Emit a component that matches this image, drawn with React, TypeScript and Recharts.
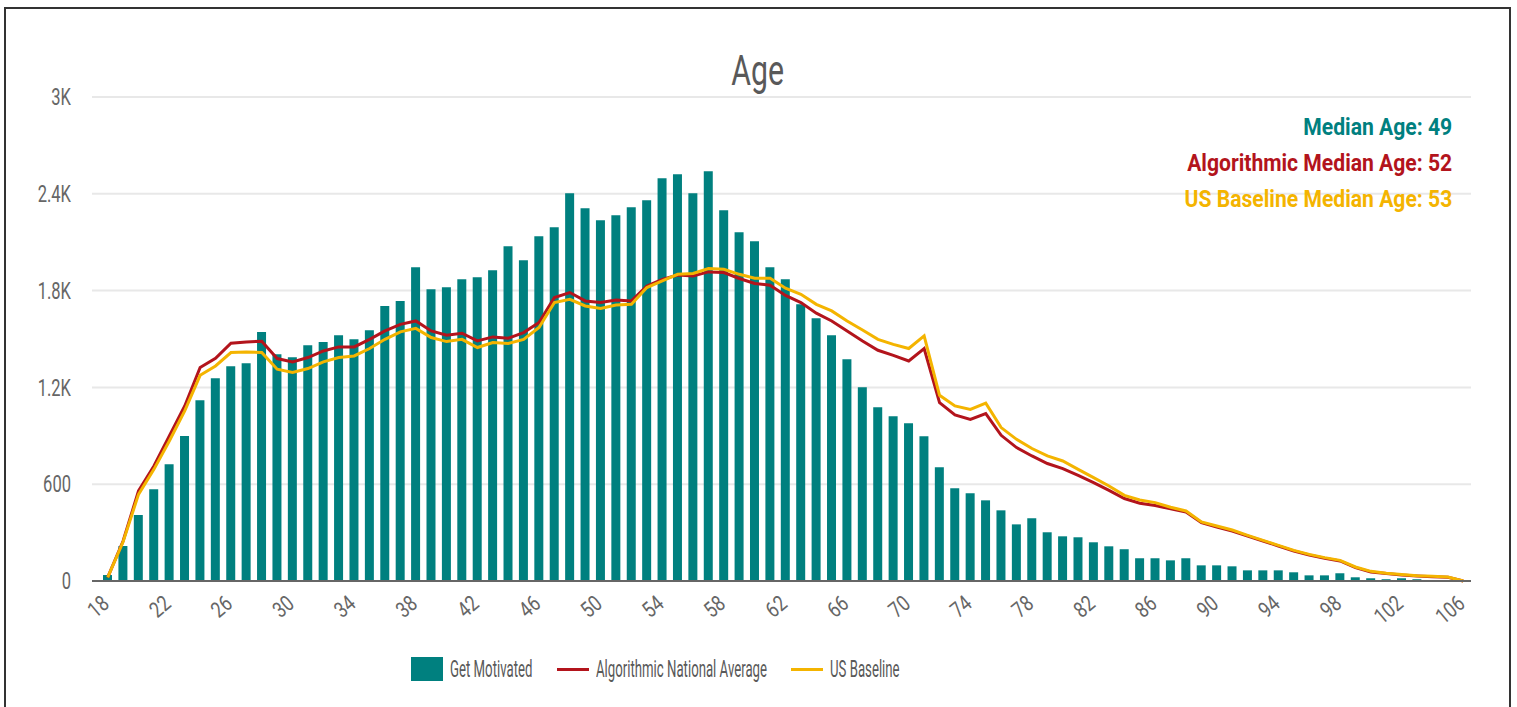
import { ComposedChart, Bar, Line, XAxis, YAxis, CartesianGrid } from 'recharts';

const FONT = 'Roboto, sans-serif';

const ages = [
  18, 19, 20, 21, 22, 23, 24, 25, 26, 27, 28, 29, 30, 31, 32, 33, 34, 35, 36, 37,
  38, 39, 40, 41, 42, 43, 44, 45, 46, 47, 48, 49, 50, 51, 52, 53, 54, 55, 56, 57,
  58, 59, 60, 61, 62, 63, 64, 65, 66, 67, 68, 69, 70, 71, 72, 73, 74, 75, 76, 77,
  78, 79, 80, 81, 82, 83, 84, 85, 86, 87, 88, 89, 90, 91, 92, 93, 94, 95, 96, 97,
  98, 99, 100, 101, 102, 103, 104, 105, 106,
];

const getMotivated = [
  37, 217, 409, 568, 723, 899, 1120, 1257, 1331, 1350, 1544, 1405, 1387, 1461, 1482, 1523, 1498, 1554, 1705, 1735,
  1945, 1808, 1821, 1870, 1883, 1926, 2075, 1988, 2137, 2193, 2403, 2311, 2236, 2267, 2317, 2360, 2496, 2521, 2403, 2540,
  2298, 2162, 2106, 1945, 1870, 1715, 1629, 1523, 1374, 1201, 1077, 1021, 978, 897, 705, 575, 544, 500, 438, 351,
  389, 302, 277, 271, 240, 215, 197, 141, 141, 128, 141, 97, 97, 91, 66, 66, 66, 54, 35, 35,
  48, 23, 17, 11, 17, 11, 6, 4, 2,
];

const algorithmic = [
  22, 248, 558, 713, 899, 1085, 1323, 1380, 1474, 1482, 1486, 1379, 1358, 1385, 1426, 1451, 1451, 1498, 1550, 1591,
  1612, 1550, 1523, 1536, 1488, 1513, 1505, 1540, 1602, 1757, 1788, 1736, 1726, 1742, 1736, 1829, 1870, 1897, 1891, 1916,
  1912, 1875, 1844, 1833, 1770, 1726, 1660, 1612, 1550, 1488, 1430, 1399, 1364, 1441, 1106, 1029, 1002, 1038, 903, 827,
  775, 728, 697, 655, 610, 562, 511, 482, 468, 447, 428, 362, 335, 310, 279, 248, 217, 186, 161, 141,
  124, 83, 56, 46, 37, 31, 27, 23, 0,
];

const usBaseline = [
  22, 243, 537, 692, 868, 1054, 1275, 1333, 1416, 1420, 1416, 1313, 1292, 1317, 1358, 1385, 1395, 1441, 1498, 1544,
  1566, 1509, 1484, 1498, 1447, 1478, 1472, 1498, 1571, 1726, 1746, 1705, 1689, 1711, 1715, 1819, 1860, 1901, 1906, 1937,
  1932, 1901, 1877, 1877, 1815, 1777, 1715, 1674, 1612, 1556, 1498, 1467, 1441, 1519, 1151, 1085, 1064, 1102, 951, 878,
  821, 775, 744, 692, 641, 589, 531, 502, 486, 457, 434, 366, 341, 316, 283, 252, 221, 190, 165, 145,
  128, 87, 60, 48, 40, 33, 29, 25, 0,
];

const yTicks = [0, 600, 1200, 1800, 2400, 3000];

const medians = [
  { label: 'Median Age: 49', color: '#00807f' },
  { label: 'Algorithmic Median Age: 52', color: '#b3141c' },
  { label: 'US Baseline Median Age: 53', color: '#f4b400' },
];

const legendItems = [
  { name: 'Get Motivated', color: '#00807f', type: 'bar', left: 405 },
  { name: 'Algorithmic National Average', color: '#b3141c', type: 'line', left: 551 },
  { name: 'US Baseline', color: '#f4b400', type: 'line', left: 785 },
];

const data = ages.map((age, i) => ({
  age,
  gm: getMotivated[i],
  alg: algorithmic[i],
  us: usBaseline[i],
}));

const fmtY = (v: number) => (v >= 1000 ? `${v / 1000}K` : `${v}`);

function AgeTick(props: any) {
  const { x, y, payload } = props;
  const tx = x + 3;
  const ty = y + 17;
  return (
    <text
      transform={`translate(${tx}, ${ty}) rotate(-40) scale(0.8, 1)`}
      textAnchor="end"
      fill="#666"
      fontSize={22}
      fontFamily={FONT}
    >
      {payload.value}
    </text>
  );
}

function ValueTick(props: any) {
  const { x, y, payload } = props;
  return (
    <text
      transform={`translate(${x}, ${y}) scale(0.72, 1)`}
      dy="0.36em"
      textAnchor="end"
      fill="#666"
      fontSize={23}
      fontFamily={FONT}
    >
      {fmtY(payload.value)}
    </text>
  );
}

export default function App() {
  return (
    <div
      style={{
        position: 'fixed',
        left: 0,
        top: 0,
        width: 1517,
        height: 707,
        overflow: 'hidden',
        background: '#fff',
      }}
    >
      <div
        style={{
          position: 'absolute',
          left: 4,
          top: 7,
          width: 1503,
          height: 720,
          border: '2px solid #333',
          fontFamily: FONT,
        }}
      >
        <div
          style={{
            position: 'absolute',
            top: 37,
            left: 0,
            width: 1503,
            textAlign: 'center',
            lineHeight: '50px',
          }}
        >
          <span
            style={{
              display: 'inline-block',
              fontSize: 42,
              color: '#595959',
              transform: 'scaleX(0.72)',
            }}
          >
            Age
          </span>
        </div>

        <ComposedChart
          width={1503}
          height={700}
          data={data}
          margin={{ top: 88, right: 38, bottom: 68, left: 0 }}
        >
          <CartesianGrid vertical={false} stroke="#e8e8e8" strokeWidth={2} />
          <XAxis
            dataKey="age"
            interval={3}
            height={60}
            padding={{ left: 8, right: 0 }}
            axisLine={{ stroke: '#666', strokeWidth: 2 }}
            tickLine={false}
            tick={<AgeTick />}
          />
          <YAxis
            width={86}
            domain={[0, 3000]}
            ticks={yTicks}
            axisLine={false}
            tickLine={false}
            tickMargin={15}
            tick={<ValueTick />}
          />
          <Bar dataKey="gm" name="Get Motivated" fill="#00807f" barSize={9} isAnimationActive={false} />
          <Line
            type="linear"
            dataKey="alg"
            name="Algorithmic National Average"
            stroke="#b3141c"
            strokeWidth={3}
            dot={false}
            isAnimationActive={false}
          />
          <Line
            type="linear"
            dataKey="us"
            name="US Baseline"
            stroke="#f4b400"
            strokeWidth={3}
            dot={false}
            isAnimationActive={false}
          />
        </ComposedChart>

        {medians.map((m, i) => (
          <div
            key={m.label}
            style={{
              position: 'absolute',
              right: 1503 - 1446,
              top: 104 + i * 36,
              whiteSpace: 'nowrap',
              lineHeight: '28px',
            }}
          >
            <span
              style={{
                display: 'inline-block',
                fontSize: 24,
                fontWeight: 'bold',
                color: m.color,
                transform: 'scaleX(0.88)',
                transformOrigin: 'right center',
              }}
            >
              {m.label}
            </span>
          </div>
        ))}

        {legendItems.map((it) => (
          <div
            key={it.name}
            style={{
              position: 'absolute',
              left: it.left,
              top: 648,
              height: 24,
              display: 'flex',
              alignItems: 'center',
              whiteSpace: 'nowrap',
            }}
          >
            {it.type === 'bar' ? (
              <div style={{ width: 32, height: 24, background: it.color }} />
            ) : (
              <div style={{ width: 32, height: 3, background: it.color }} />
            )}
            <span
              style={{
                display: 'inline-block',
                marginLeft: 7,
                fontSize: 24,
                lineHeight: '24px',
                color: '#595959',
                transform: 'scaleX(0.55)',
                transformOrigin: 'left center',
              }}
            >
              {it.name}
            </span>
          </div>
        ))}
      </div>
    </div>
  );
}
